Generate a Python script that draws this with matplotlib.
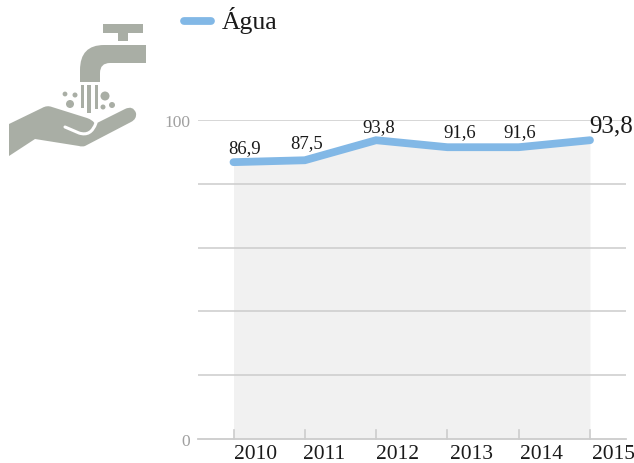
import matplotlib
matplotlib.use("Agg")
import matplotlib.pyplot as plt
from matplotlib.patches import Circle, PathPatch, Rectangle
from matplotlib.path import Path
from matplotlib.transforms import ScaledTranslation

plt.rcParams['font.family'] = ['Liberation Serif', 'DejaVu Serif']

years = [2010, 2011, 2012, 2013, 2014, 2015]
agua = [86.9, 87.5, 93.8, 91.6, 91.6, 93.8]
value_labels = ["86,9", "87,5", "93,8", "91,6", "91,6", "93,8"]
grid_values = [20, 40, 60, 80]
y_ticks = [0, 100]
series_name = "Água"

W, H = 634, 463
LINE = "#82b8e6"
FILL = "#f1f1f1"
GRID = "#cccccc"
ICON = "#a9aea5"
TEXT = "#1a1a1a"

fig = plt.figure(figsize=(W / 100, H / 100), dpi=100)

# chart area, from the pixel positions of the gridlines
ax = fig.add_axes([198 / W, 1 - 438.5 / H, 428 / W, 318 / H])
ax.set_xlim(2009.502, 2015.505)
ax.set_ylim(0, 100)
ax.patch.set_alpha(0)
for s in ["top", "right", "left"]:
    ax.spines[s].set_visible(False)
ax.spines["bottom"].set_color(GRID)
ax.spines["bottom"].set_linewidth(1.3)

ax.fill_between(years, agua, 0, color=FILL, lw=0, zorder=1)
for v in grid_values + [100]:
    ax.axhline(v, color=GRID, lw=1.1, zorder=2)
ax.plot(years, agua, color=LINE, lw=5.6, solid_capstyle="round",
        solid_joinstyle="miter", zorder=3, clip_on=False)

# value labels, each one sits a bit differently over its point
offsets = [(11.5, 14), (2, 17), (3, 13), (12, 15), (1, 15), (21, 14)]
for i in range(len(years)):
    size = 18 if i == len(years) - 1 else 13.5
    ax.annotate(value_labels[i], (years[i], agua[i]), xytext=offsets[i],
                textcoords="offset pixels", ha="center", va="center",
                fontsize=size, color=TEXT, annotation_clip=False)

ax.set_xticks(years)
ax.set_xticklabels(years, fontsize=15.5, color=TEXT)
ax.tick_params(axis="x", direction="out", length=0, pad=5)
label_shift = [0, -2, 0, 3, 1, 2]
for t, dx in zip(ax.get_xticklabels(), label_shift):
    t.set_ha("left")
    t.set_transform(t.get_transform() + ScaledTranslation(dx / 100, 0, fig.dpi_scale_trans))
ax.set_yticks([])
for v in y_ticks:
    ax.annotate(str(v), (0, v / 100), xycoords="axes fraction", xytext=(-8, -3),
                textcoords="offset pixels", ha="right", va="center",
                fontsize=12.5, color="#a0a0a0")
for yr in years:
    ax.plot([yr, yr], [0, 2.7], color=GRID, lw=1.2, zorder=2, clip_on=False)

# overlay in pixel coordinates for legend and icon
ov = fig.add_axes([0, 0, 1, 1])
ov.set_xlim(0, W)
ov.set_ylim(H, 0)
ov.axis("off")
ov.patch.set_alpha(0)

ov.plot([184, 211], [21, 21], color=LINE, lw=5.6, solid_capstyle="round")
ov.text(222, 21, series_name, fontsize=18.5, color=TEXT, va="center", ha="left")

# tap
ov.add_patch(Rectangle((103, 24), 40, 9, color=ICON, lw=0))
ov.add_patch(Rectangle((118, 33), 10, 8, color=ICON, lw=0))
spout = Path([(146, 45), (146, 63), (110, 63), (100, 63), (100, 73), (100, 82),
              (80, 82), (80, 70), (80, 45), (104, 45), (146, 45)],
             [Path.MOVETO, Path.LINETO, Path.LINETO, Path.CURVE3, Path.CURVE3,
              Path.LINETO, Path.LINETO, Path.LINETO, Path.CURVE3, Path.CURVE3,
              Path.CLOSEPOLY])
ov.add_patch(PathPatch(spout, color=ICON, lw=0))
for x0, w, h in [(81, 3, 23), (87, 4, 28), (95, 3, 24)]:
    ov.add_patch(Rectangle((x0, 85), w, h, color=ICON, lw=0))
for cx, cy, r in [(65, 94, 2.4), (75, 95, 2.5), (70, 104, 4), (105, 96, 4.5),
                  (103, 107, 2.5), (112, 105, 3)]:
    ov.add_patch(Circle((cx, cy), r, color=ICON, lw=0))

# hand
M, L, C = Path.MOVETO, Path.LINETO, Path.CURVE3
hand = Path([(9, 124), (42, 108), (47, 105), (52, 107), (87, 118), (93, 120), (95, 124),
             (125, 109), (133, 105), (136, 113), (137, 119), (131, 122), (85, 146),
             (82, 147), (79, 146), (35, 139), (9, 156), (9, 124)],
            [M, L, C, C, L, C, C, L, C, C, C, C, L, C, C, L, L, Path.CLOSEPOLY])
ov.add_patch(PathPatch(hand, color=ICON, lw=0))
slit = Path([(65, 127), (79, 133), (91, 137), (96, 123)], [M, L, C, C])
ov.add_patch(PathPatch(slit, fill=False, edgecolor="white", lw=2.2, capstyle="round"))

fig.savefig("out.png", dpi=100)
